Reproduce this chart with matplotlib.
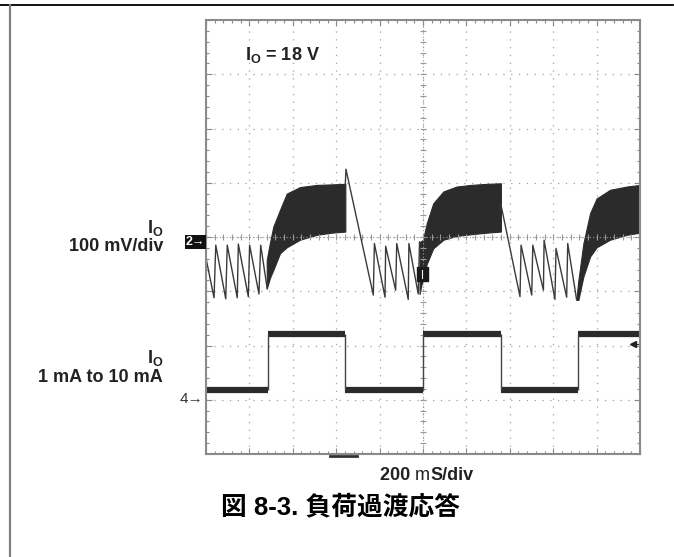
import numpy as np
import matplotlib
matplotlib.use('Agg')
import matplotlib.pyplot as plt
from matplotlib.lines import Line2D
from matplotlib.patches import Rectangle

# time in ms (200 ms/div), amplitude in scope divisions
# ch2 ripple (sawtooth vertices) during light load
ripple1_t = [0, 37, 45, 91, 98, 144, 149, 195, 201, 244, 252, 282]
ripple1_v = [-0.39, -1.12, -0.15, -1.14, -0.15, -1.12, -0.13, -1.10, -0.15, -1.05, -0.15, -0.95]
ripple2_t = [642, 645, 771, 776, 825, 828, 874, 879, 932, 935, 978, 984]
ripple2_v = [0.98, 1.25, -1.07, -0.12, -1.11, -0.17, -0.98, -0.12, -1.15, -0.12, -1.05, -0.09]
ripple3_t = [1359, 1447, 1452, 1501, 1506, 1555, 1558, 1608, 1613, 1662, 1667, 1708]
ripple3_v = [0.60, -1.10, -0.15, -1.07, -0.15, -0.98, -0.06, -1.15, -0.21, -1.11, -0.12, -1.16]

# ch2 envelope during heavy load (dense switching ripple)
band1_t = [280, 295, 310, 341, 372, 433, 510, 580, 642]
band1_hi = [-0.42, -0.10, 0.19, 0.50, 0.80, 0.92, 0.96, 0.97, 0.98]
band1_lo = [-0.95, -0.75, -0.61, -0.30, -0.19, -0.05, 0.04, 0.08, 0.10]
band2_t = [984, 1000, 1017, 1047, 1094, 1155, 1220, 1294, 1359]
band2_hi = [-0.10, -0.05, 0.25, 0.62, 0.84, 0.93, 0.96, 0.98, 0.99]
band2_lo = [-1.05, -0.75, -0.50, -0.21, -0.05, 0.02, 0.05, 0.08, 0.10]
band3_t = [1708, 1716, 1739, 1770, 1800, 1862, 1939, 2000]
band3_hi = [-1.10, -0.80, -0.12, 0.44, 0.71, 0.87, 0.93, 0.96]
band3_lo = [-1.16, -1.16, -0.73, -0.36, -0.19, -0.05, 0.04, 0.08]

# ch4 load current steps
load_t = [0, 287, 640, 998, 1358, 1712, 2000]
load_lv = [-2.82, -1.78, -2.82, -1.78, -2.82, -1.78]

W, H = 674, 557
plt.rcParams['font.family'] = ['Liberation Sans', 'Noto Sans CJK JP', 'DejaVu Sans']
plt.rcParams['mathtext.fontset'] = 'custom'
plt.rcParams['mathtext.rm'] = 'Liberation Sans'
plt.rcParams['mathtext.bf'] = 'Liberation Sans:bold'

fig = plt.figure(figsize=(W / 100, H / 100), dpi=100)


def px(x, y):
    return x / W, 1 - y / H


ax = fig.add_axes([206 / W, 1 - 454 / H, 434 / W, 434 / H])
ax.set_xlim(0, 2000)
ax.set_ylim(-4, 4)
ax.set_xticks(np.arange(0, 2001, 200))
ax.set_xticks(np.arange(0, 2001, 40), minor=True)
ax.set_yticks(np.arange(-4, 4.01, 1))
ax.set_yticks(np.arange(-4, 4.01, 0.2), minor=True)
ax.tick_params(which='both', direction='in', top=True, right=True,
               labelbottom=False, labelleft=False, color='#8a8a8a', width=0.8)
ax.tick_params(which='major', length=4)
ax.tick_params(which='minor', length=2.5)
for s in ax.spines.values():
    s.set_color('#8a8a8a')
    s.set_linewidth(1.5)
ax.set_axisbelow(True)
ax.grid(which='major', color='#a0a0a0', linestyle=(0, (1, 5.25)), lw=0.9)

# centre graticule lines with crossing ticks
ax.axvline(1000, color='#9a9a9a', lw=0.8, ls=(0, (1, 2)))
ax.axhline(0, color='#9a9a9a', lw=0.8, ls=(0, (1, 2)))
mx = np.arange(0, 2001, 40)
my = np.arange(-4, 4.01, 0.2)
ax.plot(mx, np.zeros_like(mx), ls='none', marker='|', ms=4, mew=0.8, color='#9a9a9a')
ax.plot(np.full_like(my, 1000), my, ls='none', marker='_', ms=4, mew=0.8, color='#9a9a9a')

trace = '#2b2b2b'
for bt, hi, lo in [(band1_t, band1_hi, band1_lo), (band2_t, band2_hi, band2_lo),
                   (band3_t, band3_hi, band3_lo)]:
    ax.fill_between(bt, lo, hi, color=trace, lw=0.8, ec=trace)
for rt, rv in [(ripple1_t, ripple1_v), (ripple2_t, ripple2_v), (ripple3_t, ripple3_v)]:
    ax.plot(rt, rv, color='#3a3a3a', lw=1.0)

for i, lv in enumerate(load_lv):
    ax.hlines(lv, load_t[i], load_t[i + 1], color=trace, lw=4.5)
ax.vlines(load_t[1:-1], min(load_lv), max(load_lv), color='#444444', lw=1.0)

# scope markers
ax.add_patch(Rectangle((0.486, 0.399), 0.025, 0.032, transform=ax.transAxes,
                       color='#1a1a1a', clip_on=False, zorder=5))
ax.plot([0.498, 0.498], [0.405, 0.425], transform=ax.transAxes, color='white', lw=0.8, zorder=6)
ax.plot([0.985], [0.253], transform=ax.transAxes, marker='<', ms=5, color='#222222',
        clip_on=False)
ax.plot([0.985, 1.0], [0.253, 0.253], transform=ax.transAxes, color='#222222', lw=0.8)
ax.plot([0.286, 0.348], [-0.004, -0.004], transform=ax.transAxes, color='#333333',
        lw=2.0, clip_on=False)

ax.text(0.09, 0.92, r'$\mathbf{I_{O}}$ = 18 V', transform=ax.transAxes, fontsize=13,
        fontweight='bold', color='#222222', va='center', ha='left')

fig.text(*px(195.5, 242), '2→', fontsize=9, fontweight='bold', color='white',
         ha='center', va='center', family=['Liberation Sans', 'DejaVu Sans'],
         bbox=dict(boxstyle='square,pad=0.08', fc='#111111', ec='none'))
fig.text(*px(203, 399), '4→', fontsize=11, color='#333333', ha='right', va='center',
         family=['Liberation Sans', 'DejaVu Sans'])

lab = dict(fontsize=13, fontweight='bold', color='#222222', ha='right', va='center')
fig.text(*px(163, 228), r'$\mathbf{I_{O}}$', **lab)
fig.text(*px(163, 247), '100 mV/div', **lab)
fig.text(*px(163, 358), r'$\mathbf{I_{O}}$', **lab)
fig.text(*px(163, 378), '1 mA to 10 mA', **lab)

# x scale label: "200 " and "S/div" bold, "m" regular
t1 = fig.text(*px(380, 475), '200 ', fontsize=13, fontweight='bold', color='#222222',
              ha='left', va='center')
t_m = fig.text(0, 0, 'm', fontsize=13, color='#222222', ha='left', va='bottom')
t_m.set_position((0, 0))
t_m.remove()
a_m = ax.annotate('m', xy=(1, 0), xycoords=t1, fontsize=13, color='#222222',
                  ha='left', va='bottom', annotation_clip=False)
ax.annotate('S/div', xy=(1, 0), xycoords=a_m, fontsize=13, fontweight='bold',
            color='#222222', ha='left', va='bottom', annotation_clip=False)

fig.text(*px(221, 507), '図 8-3. 負荷過渡応答', fontsize=18.5, fontweight='bold',
         color='black', ha='left', va='center')

fig.add_artist(Line2D([0, 673 / W], [1 - 5 / H] * 2, color='black', lw=1.3))
fig.add_artist(Line2D([10 / W] * 2, [0, 1 - 5 / H], color='#808080', lw=1.6))

fig.savefig('out.png', dpi=100)
